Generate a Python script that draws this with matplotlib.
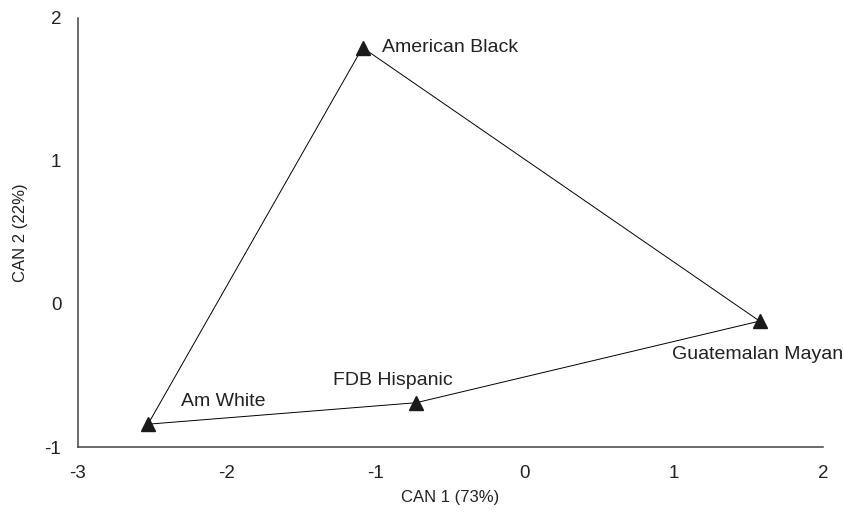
import matplotlib.pyplot as plt

plt.rcParams['font.family'] = ['Liberation Sans', 'DejaVu Sans']
plt.rcParams['axes.unicode_minus'] = False

# group centroids on the two canonical axes
groups = ['Am White', 'American Black', 'Guatemalan Mayan', 'FDB Hispanic']
can1 = [-2.53, -1.09, 1.575, -0.73]
can2 = [-0.84, 1.79, -0.12, -0.69]

# label offsets (points) relative to each marker
offsets = [(24, 16), (14, 0), (-63, -24), (-60, 16)]

fig = plt.figure(figsize=(8.44, 5.31), dpi=100)
ax = fig.add_axes([0.0924, 0.158, 0.8826, 0.809])

# closed outline through the groups
xs = can1 + [can1[0]]
ys = can2 + [can2[0]]
ax.plot(xs, ys, color='black', linewidth=0.7, zorder=2)
ax.plot(can1, can2, linestyle='none', marker='^', markersize=10,
        color='#1a1a1a', zorder=3)

for name, x, y, off in zip(groups, can1, can2, offsets):
    ax.annotate(name, (x, y), xytext=off, textcoords='offset points',
                ha='left', va='center', fontsize=14, color='#222222')

ax.set_xlim(-3, 2)
ax.set_ylim(-1, 2)
ax.set_xticks([-3, -2, -1, 0, 1, 2])
ax.set_yticks([-1, 0, 1, 2])
ax.tick_params(length=0, labelsize=13.5, colors='#222222')
ax.tick_params(axis='x', pad=13)
ax.tick_params(axis='y', pad=12)

for side in ['top', 'right']:
    ax.spines[side].set_visible(False)
for side in ['left', 'bottom']:
    ax.spines[side].set_color('#444444')
    ax.spines[side].set_linewidth(1.1)

ax.set_xlabel('CAN 1 (73%)', fontsize=12, color='#222222', labelpad=6)
ax.set_ylabel('CAN 2 (22%)', fontsize=12, color='#222222', labelpad=12)

fig.savefig('out.png', dpi=100)
